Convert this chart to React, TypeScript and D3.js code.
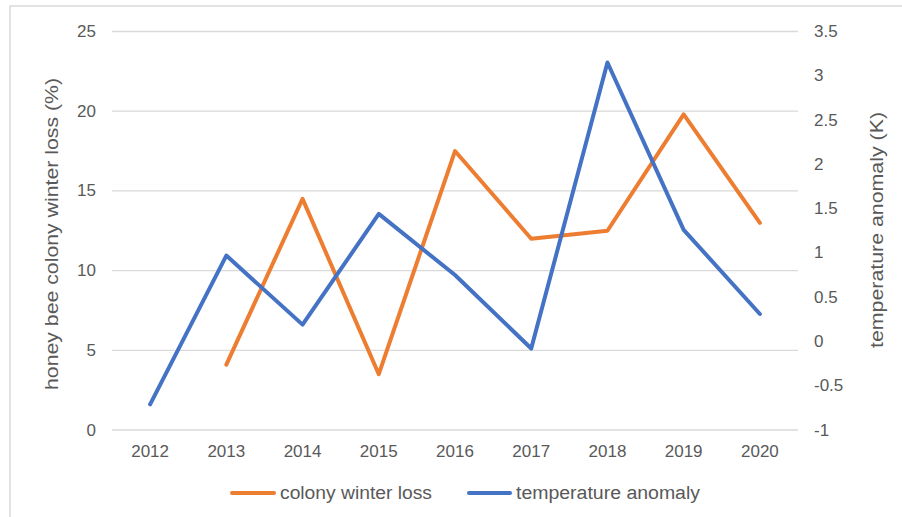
import { useMemo } from "react";
import * as d3 from "d3";

const years = ["2012", "2013", "2014", "2015", "2016", "2017", "2018", "2019", "2020"];
// honey bee colony winter loss (%) — no value for 2012
const winterLoss: (number | null)[] = [null, 4.1, 14.5, 3.5, 17.5, 12, 12.5, 19.8, 13];
// temperature anomaly (K)
const tempAnomaly = [-0.71, 0.97, 0.19, 1.44, 0.75, -0.08, 3.15, 1.26, 0.31];

const leftTicks = [0, 5, 10, 15, 20, 25];
const rightTicks = [-1, -0.5, 0, 0.5, 1, 1.5, 2, 2.5, 3, 3.5];

const ORANGE = "#ED7D31";
const BLUE = "#4472C4";
const TEXT = "#595959";
const GRID = "#D9D9D9";
const FONT = "'Liberation Sans', 'Noto Sans', sans-serif";

export default function App() {
  const width = 902;
  const height = 517;
  const plot = { left: 112, right: 798, top: 31.5, bottom: 430 };

  const x = useMemo(
    () => d3.scaleBand().domain(years).range([plot.left, plot.right]),
    [],
  );
  const yLeft = useMemo(
    () => d3.scaleLinear().domain([0, 25]).range([plot.bottom, plot.top]),
    [],
  );
  const yRight = useMemo(
    () => d3.scaleLinear().domain([-1, 3.5]).range([plot.bottom, plot.top]),
    [],
  );
  const cx = (y: string) => (x(y) ?? 0) + x.bandwidth() / 2;

  const lossPath = d3
    .line<number | null>()
    .defined((d) => d !== null)
    .x((_, i) => cx(years[i]))
    .y((d) => yLeft(d as number))(winterLoss);

  const tempPath = d3
    .line<number>()
    .x((_, i) => cx(years[i]))
    .y((d) => yRight(d))(tempAnomaly);

  return (
    <svg
      width={width}
      height={height}
      viewBox={`0 0 ${width} ${height}`}
      style={{ position: "absolute", left: 0, top: 0, display: "block", background: "#fff" }}
      fontFamily={FONT}
    >
      {/* chart frame (cropped on right and bottom) */}
      <rect x={10} y={6} width={width + 20} height={height + 20} fill="#fff" stroke={GRID} strokeWidth={1.5} />

      {/* grid */}
      {leftTicks.map((t) => (
        <line
          key={t}
          x1={plot.left}
          x2={plot.right}
          y1={yLeft(t)}
          y2={yLeft(t)}
          stroke={GRID}
          strokeWidth={1.3}
        />
      ))}

      {/* left axis labels */}
      {leftTicks.map((t) => (
        <text
          key={t}
          x={96}
          y={yLeft(t)}
          textAnchor="end"
          dominantBaseline="central"
          fontSize={17}
          fill={TEXT}
        >
          {t}
        </text>
      ))}

      {/* right axis labels */}
      {rightTicks.map((t) => (
        <text
          key={t}
          x={814}
          y={yRight(t)}
          dominantBaseline="central"
          fontSize={17}
          fill={TEXT}
        >
          {t}
        </text>
      ))}

      {/* x labels */}
      {years.map((y) => (
        <text
          key={y}
          x={cx(y)}
          y={451}
          textAnchor="middle"
          dominantBaseline="central"
          fontSize={17}
          fill={TEXT}
        >
          {y}
        </text>
      ))}

      {/* axis titles */}
      <text
        transform="translate(52, 234) rotate(-90)"
        textAnchor="middle"
        dominantBaseline="central"
        fontSize={18}
        fill={TEXT}
        textLength={312}
        lengthAdjust="spacingAndGlyphs"
      >
        honey bee colony winter loss (%)
      </text>
      <text
        transform="translate(877, 230) rotate(-90)"
        textAnchor="middle"
        dominantBaseline="central"
        fontSize={18}
        fill={TEXT}
        textLength={236}
        lengthAdjust="spacingAndGlyphs"
      >
        temperature anomaly (K)
      </text>

      {/* series */}
      <path d={lossPath ?? ""} fill="none" stroke={ORANGE} strokeWidth={4} strokeLinejoin="round" strokeLinecap="round" />
      <path d={tempPath ?? ""} fill="none" stroke={BLUE} strokeWidth={4} strokeLinejoin="round" strokeLinecap="round" />

      {/* legend */}
      <line x1={232} x2={274} y1={493} y2={493} stroke={ORANGE} strokeWidth={4} strokeLinecap="round" />
      <text
        x={280}
        y={493}
        dominantBaseline="central"
        fontSize={18}
        fill={TEXT}
        textLength={152}
        lengthAdjust="spacingAndGlyphs"
      >
        colony winter loss
      </text>
      <line x1={469} x2={510} y1={493} y2={493} stroke={BLUE} strokeWidth={4} strokeLinecap="round" />
      <text
        x={516}
        y={493}
        dominantBaseline="central"
        fontSize={18}
        fill={TEXT}
        textLength={184}
        lengthAdjust="spacingAndGlyphs"
      >
        temperature anomaly
      </text>
    </svg>
  );
}
